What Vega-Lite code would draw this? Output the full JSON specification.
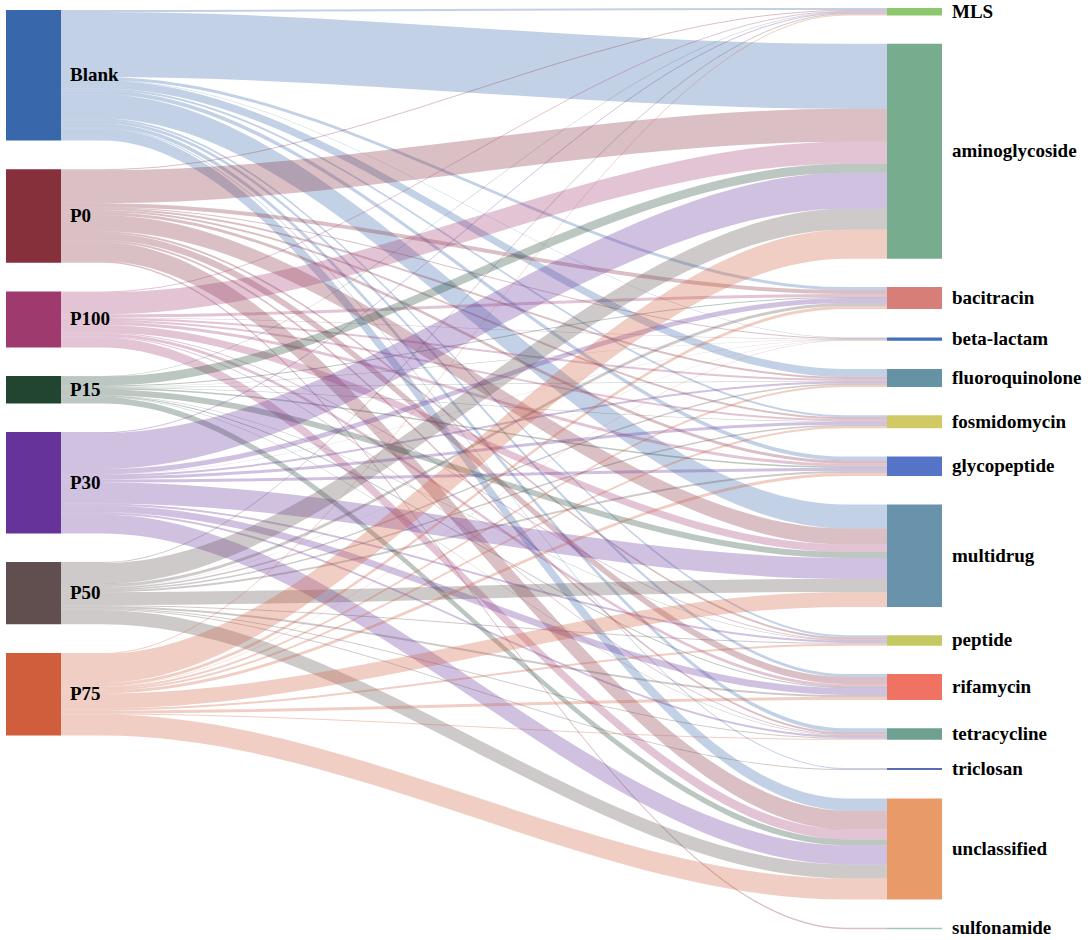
{
  "$schema": "https://vega.github.io/schema/vega-lite/v6.json",
  "width": 1091,
  "height": 940,
  "padding": 0,
  "autosize": {"type": "none"},
  "background": "white",
  "config": {"view": {"stroke": null}},
  "datasets": {
    "nodes": [
      {"name": "Blank", "rank": 0}, {"name": "P0", "rank": 1}, {"name": "P100", "rank": 2}, {"name": "P15", "rank": 3},
      {"name": "P30", "rank": 4}, {"name": "P50", "rank": 5}, {"name": "P75", "rank": 6},
      {"name": "MLS", "rank": 0}, {"name": "aminoglycoside", "rank": 1}, {"name": "bacitracin", "rank": 2},
      {"name": "beta-lactam", "rank": 3}, {"name": "fluoroquinolone", "rank": 4}, {"name": "fosmidomycin", "rank": 5},
      {"name": "glycopeptide", "rank": 6}, {"name": "multidrug", "rank": 7}, {"name": "peptide", "rank": 8},
      {"name": "rifamycin", "rank": 9}, {"name": "tetracycline", "rank": 10}, {"name": "triclosan", "rank": 11},
      {"name": "unclassified", "rank": 12}, {"name": "sulfonamide", "rank": 13}
    ],
    "links": [
      {"source": "Blank", "target": "MLS", "value": 2},
      {"source": "Blank", "target": "aminoglycoside", "value": 65},
      {"source": "Blank", "target": "bacitracin", "value": 3},
      {"source": "Blank", "target": "beta-lactam", "value": 0.5},
      {"source": "Blank", "target": "fluoroquinolone", "value": 8},
      {"source": "Blank", "target": "fosmidomycin", "value": 2},
      {"source": "Blank", "target": "glycopeptide", "value": 4},
      {"source": "Blank", "target": "multidrug", "value": 24},
      {"source": "Blank", "target": "peptide", "value": 2},
      {"source": "Blank", "target": "rifamycin", "value": 3},
      {"source": "Blank", "target": "tetracycline", "value": 4},
      {"source": "Blank", "target": "triclosan", "value": 1},
      {"source": "Blank", "target": "unclassified", "value": 12},
      {"source": "P0", "target": "MLS", "value": 1},
      {"source": "P0", "target": "aminoglycoside", "value": 33},
      {"source": "P0", "target": "bacitracin", "value": 4},
      {"source": "P0", "target": "beta-lactam", "value": 1},
      {"source": "P0", "target": "fluoroquinolone", "value": 2},
      {"source": "P0", "target": "fosmidomycin", "value": 2},
      {"source": "P0", "target": "glycopeptide", "value": 3},
      {"source": "P0", "target": "multidrug", "value": 16},
      {"source": "P0", "target": "peptide", "value": 2},
      {"source": "P0", "target": "rifamycin", "value": 7},
      {"source": "P0", "target": "tetracycline", "value": 2},
      {"source": "P0", "target": "unclassified", "value": 19},
      {"source": "P0", "target": "sulfonamide", "value": 1.5},
      {"source": "P100", "target": "MLS", "value": 1},
      {"source": "P100", "target": "aminoglycoside", "value": 22},
      {"source": "P100", "target": "bacitracin", "value": 3},
      {"source": "P100", "target": "beta-lactam", "value": 0.5},
      {"source": "P100", "target": "fluoroquinolone", "value": 2},
      {"source": "P100", "target": "fosmidomycin", "value": 2},
      {"source": "P100", "target": "glycopeptide", "value": 3},
      {"source": "P100", "target": "multidrug", "value": 7.5},
      {"source": "P100", "target": "peptide", "value": 1},
      {"source": "P100", "target": "rifamycin", "value": 3},
      {"source": "P100", "target": "tetracycline", "value": 1},
      {"source": "P100", "target": "unclassified", "value": 10},
      {"source": "P15", "target": "MLS", "value": 0.5},
      {"source": "P15", "target": "aminoglycoside", "value": 9},
      {"source": "P15", "target": "bacitracin", "value": 1},
      {"source": "P15", "target": "beta-lactam", "value": 0.3},
      {"source": "P15", "target": "fluoroquinolone", "value": 0.5},
      {"source": "P15", "target": "fosmidomycin", "value": 0.5},
      {"source": "P15", "target": "glycopeptide", "value": 1.5},
      {"source": "P15", "target": "multidrug", "value": 6},
      {"source": "P15", "target": "peptide", "value": 0.5},
      {"source": "P15", "target": "rifamycin", "value": 1},
      {"source": "P15", "target": "tetracycline", "value": 0.5},
      {"source": "P15", "target": "unclassified", "value": 6},
      {"source": "P30", "target": "MLS", "value": 1},
      {"source": "P30", "target": "aminoglycoside", "value": 36},
      {"source": "P30", "target": "bacitracin", "value": 5},
      {"source": "P30", "target": "beta-lactam", "value": 0.3},
      {"source": "P30", "target": "fluoroquinolone", "value": 2},
      {"source": "P30", "target": "fosmidomycin", "value": 3},
      {"source": "P30", "target": "glycopeptide", "value": 3},
      {"source": "P30", "target": "multidrug", "value": 21},
      {"source": "P30", "target": "peptide", "value": 2},
      {"source": "P30", "target": "rifamycin", "value": 7},
      {"source": "P30", "target": "tetracycline", "value": 2},
      {"source": "P30", "target": "unclassified", "value": 19},
      {"source": "P50", "target": "MLS", "value": 1},
      {"source": "P50", "target": "aminoglycoside", "value": 21},
      {"source": "P50", "target": "bacitracin", "value": 3},
      {"source": "P50", "target": "beta-lactam", "value": 0.2},
      {"source": "P50", "target": "fluoroquinolone", "value": 1.5},
      {"source": "P50", "target": "fosmidomycin", "value": 1.5},
      {"source": "P50", "target": "glycopeptide", "value": 2},
      {"source": "P50", "target": "multidrug", "value": 13},
      {"source": "P50", "target": "peptide", "value": 1},
      {"source": "P50", "target": "rifamycin", "value": 2},
      {"source": "P50", "target": "tetracycline", "value": 1},
      {"source": "P50", "target": "triclosan", "value": 1},
      {"source": "P50", "target": "unclassified", "value": 14},
      {"source": "P75", "target": "MLS", "value": 1},
      {"source": "P75", "target": "aminoglycoside", "value": 29},
      {"source": "P75", "target": "bacitracin", "value": 3},
      {"source": "P75", "target": "beta-lactam", "value": 0.5},
      {"source": "P75", "target": "fluoroquinolone", "value": 2},
      {"source": "P75", "target": "fosmidomycin", "value": 2},
      {"source": "P75", "target": "glycopeptide", "value": 3},
      {"source": "P75", "target": "multidrug", "value": 15},
      {"source": "P75", "target": "peptide", "value": 2},
      {"source": "P75", "target": "rifamycin", "value": 3},
      {"source": "P75", "target": "tetracycline", "value": 1},
      {"source": "P75", "target": "unclassified", "value": 21}
    ]
  },
  "data": {"name": "links"},
  "transform": [
    {"lookup": "source", "from": {"data": {"name": "nodes"}, "key": "name", "fields": ["rank"]}, "as": ["sRank"]},
    {"lookup": "target", "from": {"data": {"name": "nodes"}, "key": "name", "fields": ["rank"]}, "as": ["tRank"]},
    {"window": [{"op": "sum", "field": "value", "as": "cumS"}], "sort": [{"field": "sRank"}, {"field": "tRank"}], "frame": [null, 0]},
    {"window": [{"op": "sum", "field": "value", "as": "cumT"}], "sort": [{"field": "tRank"}, {"field": "sRank"}], "frame": [null, 0]},
    {"calculate": "10 + datum.cumS - datum.value + datum.sRank * 28.7", "as": "sy0"},
    {"calculate": "datum.sy0 + datum.value", "as": "sy1"},
    {"calculate": "8 + datum.cumT - datum.value + datum.tRank * 28.3", "as": "ty0"},
    {"calculate": "datum.ty0 + datum.value", "as": "ty1"}
  ],
  "layer": [
    {
      "transform": [
        {"fold": ["sy0", "sy1", "ty0", "ty1"], "as": ["pt", "yy"]},
        {"calculate": "datum.pt === 'sy0' ? 0 : datum.pt === 'sy1' ? 0.05 : datum.pt === 'ty0' ? 0.95 : 1", "as": "px"},
        {"calculate": "(datum.pt === 'sy0' || datum.pt === 'sy1') ? datum.sy0 : datum.ty0", "as": "top"},
        {"calculate": "datum.top + datum.value", "as": "bottom"},
        {"calculate": "datum.source + '|' + datum.target", "as": "link"}
      ],
      "mark": {"type": "area", "interpolate": "monotone", "opacity": 0.3},
      "encoding": {
        "x": {"field": "px", "type": "quantitative", "scale": {"domain": [-0.07385, 1.24697], "nice": false, "zero": false}, "axis": null},
        "y": {"field": "top", "type": "quantitative", "stack": null, "scale": {"domain": [0, 940], "reverse": true, "nice": false, "zero": false}, "axis": null},
        "y2": {"field": "bottom"},
        "detail": {"field": "link"},
        "color": {
          "field": "source", "type": "nominal", "legend": null,
          "scale": {
            "domain": ["Blank", "P0", "P100", "P15", "P30", "P50", "P75", "MLS", "aminoglycoside", "bacitracin", "beta-lactam", "fluoroquinolone", "fosmidomycin", "glycopeptide", "multidrug", "peptide", "rifamycin", "tetracycline", "triclosan", "unclassified", "sulfonamide"],
            "range": ["#3867AB", "#85303A", "#9F3A6F", "#224532", "#66339B", "#614E4E", "#D05E3C", "#8DC86E", "#78AC8F", "#D87E78", "#4570B8", "#6592A5", "#D1C963", "#5674C7", "#6993AA", "#C4C865", "#EF7262", "#6EA092", "#5B6CB5", "#E89A69", "#9FC9B6"]
          }
        }
      }
    },
    {
      "transform": [
        {"aggregate": [{"op": "min", "field": "sy0", "as": "y0"}, {"op": "max", "field": "sy1", "as": "y1"}], "groupby": ["source"]},
        {"calculate": "-0.0666", "as": "x0"},
        {"calculate": "0", "as": "x1"},
        {"calculate": "(datum.y0 + datum.y1) / 2", "as": "ym"}
      ],
      "layer": [
        {
          "mark": {"type": "rect"},
          "encoding": {
            "x": {"field": "x0", "type": "quantitative"},
            "x2": {"field": "x1"},
            "y": {"field": "y0", "type": "quantitative"},
            "y2": {"field": "y1"},
            "color": {"field": "source", "type": "nominal", "legend": null}
          }
        },
        {
          "mark": {"type": "text", "align": "left", "baseline": "middle", "dx": 9, "font": "Liberation Serif", "fontWeight": "bold", "fontSize": 19, "color": "#000000"},
          "encoding": {
            "x": {"field": "x1", "type": "quantitative"},
            "y": {"field": "ym", "type": "quantitative"},
            "text": {"field": "source"}
          }
        }
      ]
    },
    {
      "transform": [
        {"aggregate": [{"op": "min", "field": "ty0", "as": "y0"}, {"op": "max", "field": "ty1", "as": "y1"}], "groupby": ["target"]},
        {"calculate": "1", "as": "x0"},
        {"calculate": "1.0666", "as": "x1"},
        {"calculate": "(datum.y0 + datum.y1) / 2", "as": "ym"}
      ],
      "layer": [
        {
          "mark": {"type": "rect"},
          "encoding": {
            "x": {"field": "x0", "type": "quantitative"},
            "x2": {"field": "x1"},
            "y": {"field": "y0", "type": "quantitative"},
            "y2": {"field": "y1"},
            "color": {"field": "target", "type": "nominal", "legend": null}
          }
        },
        {
          "mark": {"type": "text", "align": "left", "baseline": "middle", "dx": 10, "font": "Liberation Serif", "fontWeight": "bold", "fontSize": 19, "color": "#000000"},
          "encoding": {
            "x": {"field": "x1", "type": "quantitative"},
            "y": {"field": "ym", "type": "quantitative"},
            "text": {"field": "target"}
          }
        }
      ]
    }
  ]
}
